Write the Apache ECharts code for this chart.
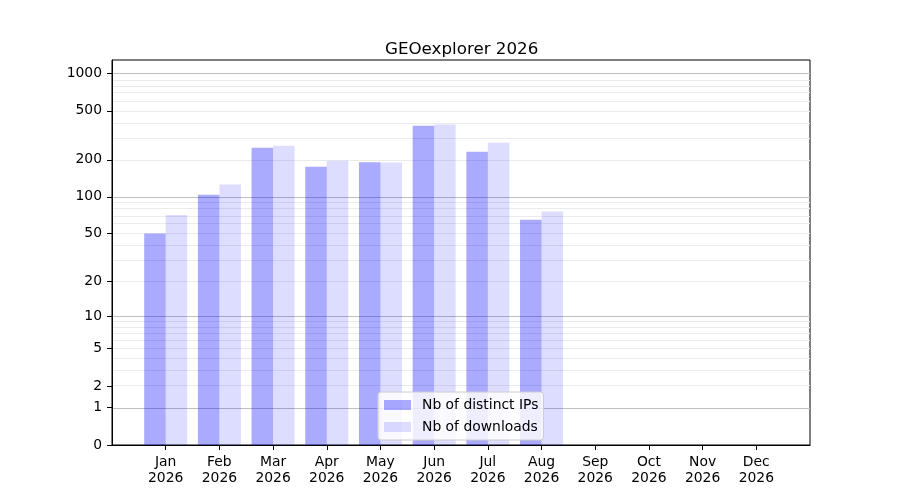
<!DOCTYPE html>
<html>
<head>
<meta charset="utf-8">
<script src="https://cdn.jsdelivr.net/npm/echarts@6/dist/echarts.min.js"></script>
<style>
  html, body { margin: 0; padding: 0; background: #fff; }
  #chart { width: 900px; height: 500px; }
</style>
</head>
<body>
<div id="chart"></div>
<script>
var months = ['Jan', 'Feb', 'Mar', 'Apr', 'May', 'Jun', 'Jul', 'Aug', 'Sep', 'Oct', 'Nov', 'Dec'];
var year = '2026';
var distinctIPs = [50, 104, 251, 176, 191, 378, 233, 65, 0, 0, 0, 0];
var downloads = [71, 126, 261, 197, 190, 387, 276, 76, 0, 0, 0, 0];
var yTicks = [0, 1, 2, 5, 10, 20, 50, 100, 200, 500, 1000];
var majorGrid = [1, 10, 100, 1000];
var minorGrid = [2, 3, 4, 5, 6, 7, 8, 9, 20, 30, 40, 50, 60, 70, 80, 90, 200, 300, 400, 500, 600, 700, 800, 900];

// y axis is log10(1 + v)
function fwd(v) { return Math.log10(1 + v); }
function inv(t) { return Math.round(Math.pow(10, t) - 1); }

var xPos = months.map(function(m, i) { return i; });

function pairs(arr) {
    return arr.map(function(v, i) { return [i, fwd(v)]; });
}

var gridLines = [];
minorGrid.forEach(function(v) {
    gridLines.push({ yAxis: fwd(v), lineStyle: { color: '#ebebeb', width: 1, type: 'solid' } });
});
majorGrid.forEach(function(v) {
    gridLines.push({ yAxis: fwd(v), lineStyle: { color: '#bfbfbf', width: 1, type: 'solid' } });
});

var chart = echarts.init(document.getElementById('chart'), null, { renderer: 'canvas' });

chart.setOption({
    animation: false,
    textStyle: { fontFamily: 'DejaVu Sans' },
    title: {
        text: 'GEOexplorer 2026',
        left: 380,
        top: 36,
        textStyle: { fontFamily: 'DejaVu Sans', fontSize: 16.7, fontWeight: 'normal', color: '#000' }
    },
    legend: {
        orient: 'vertical',
        left: 378,
        top: 392,
        z: 20,
        padding: [6, 5, 6, 6],
        itemWidth: 27,
        itemHeight: 10,
        itemGap: 8,
        backgroundColor: 'rgba(255,255,255,0.8)',
        borderColor: '#cccccc',
        borderWidth: 1,
        borderRadius: 3,
        textStyle: { fontFamily: 'DejaVu Sans', fontSize: 13.9, color: '#000', padding: [0, 0, 0, 6] },
        data: [
            { name: 'Nb of distinct IPs', icon: 'rect' },
            { name: 'Nb of downloads', icon: 'rect' }
        ]
    },
    grid: {
        left: 112,
        right: 90,
        top: 60,
        bottom: 55,
        show: true,
        borderColor: '#000',
        borderWidth: 1,
        containLabel: false
    },
    xAxis: {
        type: 'value',
        min: -1,
        max: 12,
        splitLine: { show: false },
        axisLine: { show: true, onZero: false, lineStyle: { color: '#000', width: 1 } },
        axisTick: { show: true, length: 5, customValues: xPos, lineStyle: { color: '#000' } },
        axisLabel: {
            customValues: xPos,
            margin: 9,
            fontFamily: 'DejaVu Sans',
            fontSize: 13.9,
            lineHeight: 16,
            color: '#000',
            formatter: function(v) { return months[Math.round(v)] + '\n' + year; }
        }
    },
    yAxis: {
        type: 'value',
        min: 0,
        max: 3.11,
        splitLine: { show: false },
        axisLine: { show: true, onZero: false, lineStyle: { color: '#000', width: 1 } },
        axisTick: { show: true, length: 5, customValues: yTicks.map(fwd), lineStyle: { color: '#000' } },
        axisLabel: {
            customValues: yTicks.map(fwd),
            margin: 10,
            fontFamily: 'DejaVu Sans',
            fontSize: 13.9,
            color: '#000',
            formatter: function(v) { return String(inv(v)); }
        }
    },
    series: [
        {
            name: 'gridlines',
            type: 'line',
            data: [],
            z: 0,
            silent: true,
            markLine: {
                z: 0,
                silent: true,
                symbol: 'none',
                label: { show: false },
                emphasis: { disabled: true },
                animation: false,
                data: gridLines
            }
        },
        {
            name: 'Nb of distinct IPs',
            type: 'bar',
            z: 2,
            barWidth: 21.5,
            barGap: '0%',
            itemStyle: { color: 'rgba(0,0,255,0.333)', borderWidth: 0 },
            data: pairs(distinctIPs)
        },
        {
            name: 'Nb of downloads',
            type: 'bar',
            z: 2,
            barWidth: 21.5,
            barGap: '0%',
            itemStyle: { color: 'rgba(0,0,255,0.133)', borderWidth: 0 },
            data: pairs(downloads)
        }
    ]
});
</script>
</body>
</html>
